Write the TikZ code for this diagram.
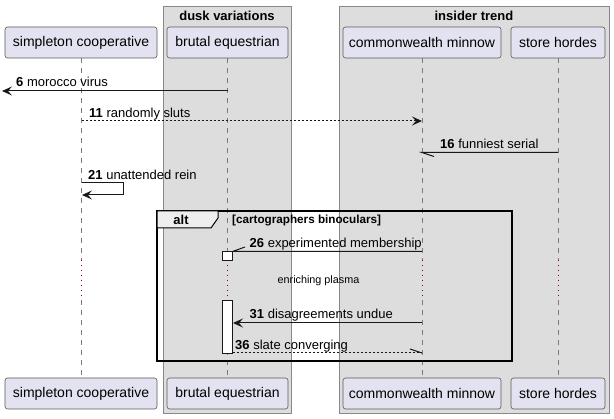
\documentclass[tikz,border=0pt]{standalone}
\usepackage{fontspec}
\setmainfont{Liberation Sans}
\usetikzlibrary{arrows.meta}
\definecolor{partfill}{HTML}{E2E2F0}
\definecolor{partdraw}{HTML}{5A5A5A}
\definecolor{boxfill}{HTML}{DDDDDD}
\definecolor{boxdraw}{HTML}{888888}
\definecolor{lifecol}{HTML}{7A7A7A}
\definecolor{msgcol}{HTML}{181818}
\definecolor{delaycol}{HTML}{8A0035}
\definecolor{tabfill}{HTML}{EEEEEE}
\tikzset{
  part/.style={draw=partdraw, line width=0.6pt, fill=partfill, rounded corners=2.5pt,
    minimum height=31pt, inner sep=0pt, font=\fontsize{14}{16}\selectfont},
  boxst/.style={draw=boxdraw, line width=0.8pt, fill=boxfill},
  boxtitle/.style={font=\fontsize{13}{15}\selectfont\bfseries, inner sep=0pt, yshift=-0.5pt},
  life/.style={draw=lifecol, line width=0.7pt, dash pattern=on 5pt off 5pt},
  delayline/.style={draw=delaycol, line width=0.9pt, dash pattern=on 1pt off 4pt},
  msg/.style={draw=msgcol, line width=1pt},
  msgdash/.style={msg, dash pattern=on 2pt off 2pt},
  tip/.style={-{Stealth[length=10pt,width=9pt,inset=4pt]}},
  lbl/.style={font=\fontsize{13}{15}\selectfont, inner sep=0pt, anchor=west, text height=9.5pt, text depth=2.5pt, yshift=-2pt},
  actbox/.style={draw=msgcol, line width=0.8pt, fill=white},
  framest/.style={draw=black, line width=1.5pt},
  tabst/.style={draw=black, line width=1pt, fill=tabfill},
}
\begin{document}
\begin{tikzpicture}[x=1pt,y=-1pt]
\useasboundingbox (0,0) rectangle (614,419);
\fill[white] (0,0) rectangle (614,419);

% boxes
\draw[boxst] (163,6) rectangle (291,413);
\node[boxtitle] (bt1) at (227,15) {dusk variations};
\draw[boxst] (339,6) rectangle (609,413);
\node[boxtitle] (bt2) at (474,15) {insider trend};

% participants
\node[part, minimum width=152pt] (sA) at (81,42.5) {simpleton cooperative};
\node[part, minimum width=121pt] (sB) at (227.5,42.5) {brutal equestrian};
\node[part, minimum width=158pt] (sC) at (422,42.5) {commonwealth minnow};
\node[part, minimum width=94pt] (sD) at (558,42.5) {store hordes};
\node[part, minimum width=152pt] (eA) at (81,393.5) {simpleton cooperative};
\node[part, minimum width=121pt] (eB) at (227.5,393.5) {brutal equestrian};
\node[part, minimum width=158pt] (eC) at (422,393.5) {commonwealth minnow};
\node[part, minimum width=94pt] (eD) at (558,393.5) {store hordes};

% delay limits
\coordinate (d1) at (0,260);
\coordinate (d2) at (0,300);

% lifelines
\foreach \p/\q in {sA/eA,sB/eB,sC/eC,sD/eD}{
  \draw[life] (\p.south) -- (\p.south |- d1);
  \draw[delayline] (\p.south |- d1) -- (\p.south |- d2);
  \draw[life] (\q.north |- d2) -- (\q.north);
}

% alt frame
\draw[framest] (157,211) rectangle (512,361);
\draw[tabst] (157,211) -- (218,211) -- (218,218) -- (211,228) -- (157,228) -- cycle;
\node[font=\fontsize{13}{15}\selectfont\bfseries, inner sep=0pt] (altl) at (181,220) {alt};
\node[font=\fontsize{11.7}{13}\selectfont\bfseries, inner sep=0pt, anchor=west] (cond) at (232,220.5) {[cartographers binoculars]};

% activation
\draw[actbox] (222.5,251.5) rectangle (232.5,260);
\draw[actbox] (222.5,300) rectangle (232.5,353);

% message 6
\coordinate (m6a) at (228,91);
\coordinate (m6b) at (2,91);
\draw[msg, tip] (m6a) -- (m6b);
\node[lbl] (t6) at (16,81.5) {\textbf{6} morocco virus};

% message 11
\coordinate (m11a) at (81.5,121);
\coordinate (m11b) at (422,121);
\draw[msgdash, tip] (m11a) -- (m11b);
\node[lbl] (t11) at (89,112) {\textbf{11} randomly sluts};

% message 16
\coordinate (m16a) at (558,152.5);
\coordinate (m16b) at (422,152.5);
\coordinate (m16c) at (434,156.5);
\draw[msg] (m16a) -- (m16b) -- (m16c);
\node[lbl] (t16) at (440,143) {\textbf{16} funniest serial};

% message 21 (self)
\coordinate (m21a) at (81.5,183);
\coordinate (m21b) at (123,183);
\coordinate (m21c) at (123,195);
\coordinate (m21d) at (82,195);
\draw[msg, tip] (m21a) -- (m21b) -- (m21c) -- (m21d);
\node[lbl] (t21) at (88,174) {\textbf{21} unattended rein};

% message 26
\coordinate (m26a) at (422,251.5);
\coordinate (m26b) at (232.5,251.5);
\coordinate (m26c) at (245,247);
\draw[msg] (m26a) -- (m26b) -- (m26c);
\node[lbl] (t26) at (249.5,242) {\textbf{26} experimented membership};

% delay text
\node[font=\fontsize{10.8}{12}\selectfont, inner sep=0pt] (dly) at (318.5,280.5) {enriching plasma};

% message 31
\coordinate (m31a) at (422,323);
\coordinate (m31b) at (233,323);
\draw[msg, tip] (m31a) -- (m31b);
\node[lbl] (t31) at (249.5,313.5) {\textbf{31} disagreements undue};

% message 36
\coordinate (m36a) at (232.5,353);
\coordinate (m36b) at (422,353);
\coordinate (m36c) at (410,349);
\draw[msgdash] (m36a) -- (m36b);
\draw[msg] (m36b) -- (m36c);
\node[lbl] (t36) at (235,344.5) {\textbf{36} slate converging};
\end{tikzpicture}
\end{document}
